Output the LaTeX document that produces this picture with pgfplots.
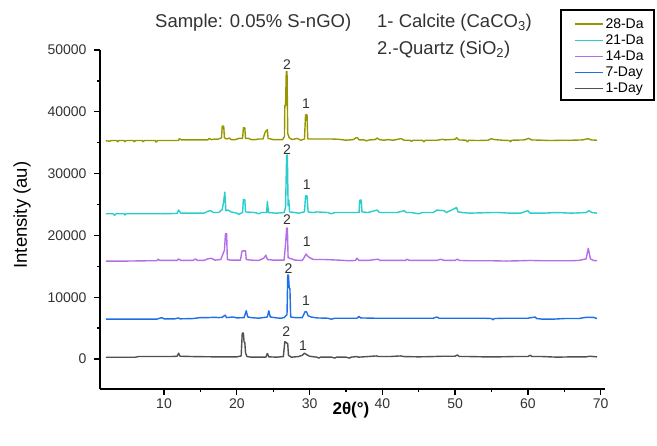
\documentclass[border=0pt]{standalone}
\usepackage{pgfplots}
\pgfplotsset{compat=1.18}
\usepackage{fontspec}
\setmainfont{Liberation Sans}
\definecolor{c28}{RGB}{150,150,0}
\definecolor{c21}{RGB}{40,205,205}
\definecolor{c14}{RGB}{180,110,230}
\definecolor{c7}{RGB}{30,110,230}
\definecolor{c1}{RGB}{80,80,80}
\definecolor{lab}{RGB}{50,50,50}
\begin{document}
\begin{tikzpicture}
\begin{axis}[
  at={(100pt,57pt)}, anchor=south west,
  scale only axis, width=505pt, height=339pt,
  xmin=1.2, xmax=70.6, ymin=-4850, ymax=50000,
  axis lines=left, axis line style={-, line width=1.5pt, black},
  tick align=outside, tick style={black, line width=1.3pt},
  major tick length=6pt, minor tick length=3pt,
  xtick={10,20,...,70}, minor x tick num=1,
  ytick={0,10000,...,50000}, minor y tick num=1,
  scaled y ticks=false,
  /pgf/number format/set thousands separator={},
  /pgf/number format/assume math mode=true,
  tick label style={font=\fontsize{14}{14}\selectfont, text=lab},
  yticklabel style={xshift=-4pt},
  xlabel={\textbf{2θ(°)}},
  ylabel={Intensity (au)},
  xlabel style={at={(axis description cs:0.497,-0.062)}, anchor=center, font=\fontsize{17}{17}\selectfont},
  ylabel style={at={(axis description cs:-0.1545,0.513)}, anchor=center, font=\fontsize{18.5}{18.5}\selectfont},
  clip=false,
  every axis plot/.append style={line width=1.4pt, line join=round},
  legend image code/.code={\draw[#1, line width=1.3pt] (0pt,0pt) -- (28pt,0pt);},
  legend style={at={(axis description cs:0.9129,1.106)}, anchor=north west,
    draw=none, fill=none, font=\fontsize{14}{14}\selectfont,
    row sep=1pt, inner xsep=13pt, inner ysep=2pt},
  legend cell align=left,
]
% 28-Day
\addplot[c28] coordinates {
(2.0,35300)(2.5,35250)(2.8,35350)(3.5,35350)(3.6,35150)(3.8,35350)(4.5,35350)(4.6,35150)(4.8,35350)
(5.8,35350)(5.9,35150)(6.1,35350)(7.0,35350)(7.1,35150)(7.3,35350)(8.8,35350)(8.9,35100)(9.1,35350)
(12.0,35350)(12.1,35650)(12.4,35450)(16.0,35450)(16.2,35700)(16.5,35500)(17.0,35600)(17.4,35550)
(17.9,35800)(18.0,37700)(18.2,37700)(18.3,35800)(18.6,35600)(19.0,35750)(19.2,35500)(19.8,35500)
(20.3,35700)(20.8,35700)(20.9,37400)(21.1,37400)(21.2,35700)(21.6,35700)(22.0,35500)(22.5,35500)
(23.0,35600)(23.6,35600)(23.9,36700)(24.1,37000)(24.2,37100)(24.3,35700)(25.0,35500)(26.3,35500)
(26.55,36000)(26.6,41000)(26.7,41000)(26.8,46500)(26.9,46500)(27.0,36500)(27.2,35800)(27.6,35500)
(28.3,35700)(28.8,35400)(29.3,35600)(29.45,39500)(29.65,39500)(29.75,35600)(30.5,35600)(31.0,35600)
(32.0,35600)(33.0,35600)(34.0,35550)(35.0,35400)(36.0,35500)(36.4,35800)(36.6,35800)(36.8,35450)
(37.5,35450)(37.8,35300)(38.2,35450)(39.0,35500)(39.3,35750)(39.6,35500)(40.2,35400)(40.8,35500)
(41.5,35400)(42.3,35600)(42.6,35650)(43.0,35400)(43.8,35400)(44.0,35200)(44.2,35400)(45.5,35400)
(45.7,35150)(45.9,35400)(47.5,35400)(48.3,35550)(48.6,35450)(50.0,35550)(50.2,35800)(50.5,35450)
(51.5,35400)(51.7,35150)(51.9,35400)(53.0,35350)(54.5,35400)(55.0,35650)(55.4,35500)(56.5,35400)
(57.5,35350)(57.6,35150)(57.8,35400)(59.5,35450)(60.1,35700)(60.5,35450)(62.0,35400)(63.0,35350)
(65.0,35400)(66.0,35400)(67.5,35450)(68.3,35650)(68.7,35450)(69.5,35400)
};
\addlegendentry{28-Da}
% 21-Day
\addplot[c21] coordinates {
(2.0,23500)(3.0,23500)(3.2,23250)(3.4,23500)(4.5,23500)(4.6,23300)(4.8,23500)(9.0,23500)(11.8,23550)
(12.0,24100)(12.3,23600)(14.0,23600)(15.5,23600)(16.0,23900)(16.4,24000)(16.8,23700)(17.5,23700)
(18.0,24200)(18.2,25500)(18.35,27000)(18.5,24000)(18.8,24100)(19.2,23800)(19.6,23700)(20.0,23600)
(20.3,23400)(20.6,23600)(20.8,23700)(20.9,25800)(21.1,25800)(21.2,23800)(22.5,23700)(23.0,23500)
(23.4,23700)(24.1,23700)(24.2,25500)(24.35,23700)(25.5,23600)(26.5,23700)(26.7,24500)(26.85,33000)
(26.95,33000)(27.05,24800)(27.15,25700)(27.25,23800)(28.0,23700)(28.5,23600)(29.3,23800)(29.45,26400)
(29.65,26400)(29.8,23800)(30.5,23700)(31.0,23800)(32.5,23700)(33.0,23500)(33.5,23700)(35.0,23700)
(36.0,23700)(36.8,23700)(36.9,25700)(37.1,25700)(37.2,23800)(38.0,23700)(39.3,24100)(39.6,23700)
(40.5,23700)(42.0,23700)(43.0,24000)(43.3,23700)(44.0,23700)(45.0,23500)(45.5,23700)(47.0,23700)
(47.5,24100)(48.5,24000)(48.8,23700)(50.2,24500)(50.4,23800)(51.0,23700)(52.0,23600)(55.0,23700)
(56.0,23700)(57.5,23600)(59.0,23600)(60.0,24000)(60.3,23600)(62.0,23600)(64.0,23700)(66.0,23600)
(68.0,23700)(68.4,24000)(68.8,23700)(69.5,23600)
};
\addlegendentry{21-Da}
% 14-Day
\addplot[c14] coordinates {
(2.0,15850)(5.0,15850)(8.0,15900)(9.0,15900)(9.2,16150)(9.4,15950)(11.8,15950)(12.0,16200)(12.3,15950)
(14.0,15950)(14.3,16200)(14.6,15950)(15.5,15950)(16.0,16200)(16.5,16300)(17.0,16000)(17.8,16100)
(18.3,17600)(18.45,20300)(18.6,20300)(18.7,16100)(19.2,16000)(20.5,16000)(20.7,17400)(20.8,17500)
(21.2,17500)(21.3,16100)(22.0,16000)(23.0,15950)(23.7,16300)(24.0,16800)(24.2,16100)(25.0,16000)
(26.5,16000)(26.7,18600)(26.85,21200)(26.95,21200)(27.05,16400)(28.0,16000)(29.0,15950)(29.3,16500)
(29.5,17000)(29.7,16700)(30.0,16400)(30.5,16100)(32.0,16100)(34.0,16000)(35.5,15900)(36.3,15950)
(36.5,16300)(36.8,15950)(38.0,15950)(39.4,16150)(39.7,15950)(42.0,15950)(43.2,15950)(43.4,16150)
(43.7,15950)(46.0,15950)(47.5,15950)(48.0,16150)(48.5,15950)(50.0,15950)(50.3,16150)(50.6,15950)
(52.0,15900)(53.0,15900)(55.0,15900)(57.0,15850)(59.0,15900)(60.3,15950)(62.0,15900)(64.0,15900)
(66.0,15900)(67.0,15950)(68.0,16200)(68.3,17900)(68.6,16200)(69.0,15950)(69.5,15900)
};
\addlegendentry{14-Da}
% 7-Day
\addplot[c7] coordinates {
(2.0,6450)(5.0,6450)(9.0,6450)(9.7,6700)(10.0,6500)(11.5,6500)(12.0,6650)(12.2,6500)(14.0,6550)
(15.0,6700)(16.0,6700)(17.0,6750)(17.5,6700)(18.0,6750)(18.4,7100)(18.6,6700)(19.5,6800)(20.0,6650)
(21.0,6700)(21.3,7800)(21.5,6800)(22.0,6700)(23.0,6600)(24.2,6800)(24.4,7800)(24.6,6800)(25.5,6650)
(26.0,6600)(26.5,6700)(26.9,7200)(27.0,13600)(27.1,13600)(27.2,11500)(27.3,11400)(27.4,6800)
(28.0,6700)(29.0,6700)(29.4,7700)(29.6,7600)(29.8,7000)(30.2,6800)(31.0,6650)(32.5,6600)(33.0,6450)
(33.5,6600)(35.0,6600)(36.5,6600)(36.8,6900)(37.0,6650)(39.0,6600)(40.0,6600)(41.0,6600)(43.0,6600)
(45.0,6600)(47.0,6600)(47.5,6800)(47.8,6600)(50.0,6600)(51.0,6600)(52.0,6600)(54.0,6600)(55.0,6550)
(55.2,6350)(55.4,6550)(57.0,6600)(60.0,6600)(61.0,6800)(61.2,6550)(62.0,6450)(63.5,6450)(65.0,6550)
(67.0,6550)(68.0,6750)(69.0,6750)(69.5,6550)
};
\addlegendentry{7-Day}
% 1-Day
\addplot[c1] coordinates {
(2.0,280)(3.0,280)(5.0,280)(6.0,280)(6.5,400)(9.0,400)(11.0,400)(11.8,450)(12.0,950)(12.2,450)
(14.0,400)(17.0,350)(19.5,350)(20.0,350)(20.6,500)(20.75,4200)(20.9,4200)(21.0,2800)(21.1,2700)
(21.2,1000)(21.4,400)(22.0,300)(24.0,300)(24.2,900)(24.4,350)(25.5,300)(26.4,400)(26.6,2800)
(26.75,2700)(26.85,2600)(27.0,2500)(27.1,600)(27.5,300)(28.5,400)(29.0,600)(29.3,950)(29.6,700)
(30.0,450)(31.0,300)(31.3,150)(31.5,300)(33.0,300)(33.5,150)(33.7,300)(35.0,300)(35.5,150)(35.7,300)
(36.5,400)(36.7,300)(38.0,400)(39.2,500)(39.5,400)(41.0,400)(42.5,500)(43.0,400)(45.0,350)(47.0,400)
(48.3,450)(50.0,450)(50.3,650)(50.6,400)(52.0,400)(54.0,350)(56.0,350)(58.0,400)(60.0,400)(60.3,600)
(60.6,400)(62.0,400)(64.0,300)(66.0,350)(68.0,350)(68.5,450)(69.0,400)(69.5,350)
};
\addlegendentry{1-Day}
% peak labels
\begin{scope}[every node/.style={font=\fontsize{14}{14}\selectfont, text=lab, inner sep=0pt}]
\node at (axis cs:26.9,47570) {2};
\node at (axis cs:29.5,41260) {1};
\node at (axis cs:26.9,33900) {2};
\node at (axis cs:29.6,28150) {1};
\node at (axis cs:26.9,22490) {2};
\node at (axis cs:29.6,18980) {1};
\node at (axis cs:27.1,14560) {2};
\node at (axis cs:29.5,9430) {1};
\node at (axis cs:26.8,4420) {2};
\node at (axis cs:29.1,2150) {1};
\end{scope}
\end{axis}
\draw[line width=1.4pt, black] (561pt,346pt) rectangle (654pt,436pt);
\begin{scope}[every node/.style={font=\fontsize{18.5}{18.5}\selectfont, text=lab, inner sep=0pt, anchor=west}]
\node at (155pt,423pt) {Sample: 0.05\% S-nGO)};
\node at (377pt,423pt) {1- Calcite (CaCO\textsubscript{3})};
\node at (377pt,396pt) {2.-Quartz (SiO\textsubscript{2})};
\end{scope}
\pgfresetboundingbox
\path[use as bounding box] (0,0) rectangle (657pt,446pt);
\end{tikzpicture}
\end{document}
